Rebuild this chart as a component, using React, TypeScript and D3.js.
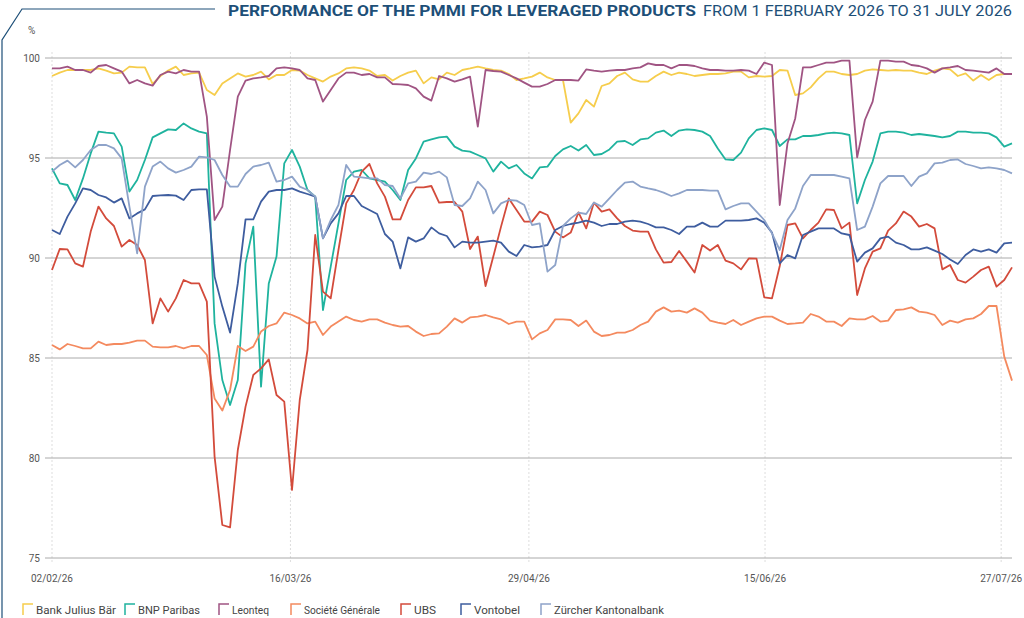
import React, { useEffect, useRef } from 'react';
import * as d3 from 'd3';

// values, one point per trading day
const juliusBaer = [99.1,99.27,99.4,99.4,99.4,99.4,99.48,99.37,99.23,99.27,99.57,99.53,99.53,98.7,99.1,99.37,99.57,99.15,99.23,99.27,98.4,98.15,98.73,98.98,99.23,99.07,99.15,99.32,98.93,99.15,99.15,99.4,
  99.37,99.15,98.98,98.82,99.07,99.23,99.48,99.53,99.48,99.37,99.1,99.15,98.87,99.1,99.27,99.37,98.73,99.03,98.93,99.27,99.15,99.4,99.48,99.57,99.48,99.4,99.37,99.2,98.9,98.98,99.07,99.27,
  99.03,98.9,98.9,96.77,97.23,97.9,97.57,98.6,98.73,99.1,99.27,98.93,98.82,98.82,99.1,99.32,99.15,99.27,99.2,99.1,99.15,99.2,99.2,99.23,99.32,99.32,99.03,99.1,99.07,99.1,99.4,
  99.37,98.15,98.23,98.53,98.98,99.32,99.32,99.2,99.15,99.2,99.37,99.43,99.4,99.37,99.4,99.37,99.37,99.27,99.2,99.37,99.48,99.43,99.1,99.23,98.87,99.15,98.9,99.15,99.2,99.2];
const bnpParibas = [94.48,93.73,93.65,92.9,93.98,95.23,96.32,96.27,96.23,95.57,93.32,93.9,94.9,96.03,96.23,96.43,96.4,96.73,96.48,96.32,96.23,86.73,83.9,82.65,83.9,89.73,91.57,83.57,88.73,90.07,94.73,95.4,
  94.57,93.4,93.07,87.4,89.57,91.73,93.9,94.32,94.4,93.98,93.9,93.82,93.4,92.9,94.4,94.98,95.82,95.93,96.03,96.07,95.57,95.37,95.32,95.15,94.98,94.32,94.82,94.48,94.65,94.23,93.98,94.53,
  94.57,95.1,95.43,95.6,95.37,95.65,95.15,95.2,95.43,95.82,95.85,95.65,95.93,95.98,96.27,96.37,96.1,96.37,96.43,96.4,96.32,96.1,95.48,94.93,94.9,95.27,95.98,96.4,96.48,96.4,95.6,
  95.93,95.93,96.1,96.1,96.15,96.23,96.27,96.23,96.15,92.73,93.9,94.82,96.23,96.32,96.32,96.27,96.15,96.2,96.15,96.1,96.03,96.1,96.32,96.32,96.27,96.27,96.23,96.03,95.57,95.73];
const leonteq = [99.48,99.48,99.57,99.4,99.4,99.27,99.6,99.65,99.48,99.32,98.73,98.9,98.73,98.62,99.15,99.32,99.23,99.4,99.32,99.32,97.07,91.9,92.57,95.4,98.07,98.87,98.98,99.03,99.1,99.48,99.53,99.48,
  99.4,98.98,98.9,97.82,98.4,98.98,99.27,99.27,99.15,99.2,99.03,99.03,98.7,98.68,98.65,98.48,98.07,97.87,99.1,98.98,98.82,98.93,99.07,96.57,99.4,99.35,99.32,99.15,98.98,98.77,98.57,98.57,
  98.7,98.9,98.9,98.9,98.87,99.43,99.37,99.32,99.37,99.4,99.4,99.48,99.53,99.73,99.65,99.65,99.48,99.65,99.65,99.6,99.48,99.4,99.4,99.37,99.37,99.4,99.37,99.2,99.77,99.65,92.65,
  95.73,96.98,99.53,99.53,99.65,99.77,99.77,99.87,99.87,95.03,96.9,97.82,99.87,99.87,99.82,99.82,99.65,99.6,99.48,99.27,99.48,99.53,99.6,99.4,99.37,99.32,99.27,99.48,99.2,99.2];
const socGen = [85.65,85.43,85.7,85.6,85.48,85.48,85.82,85.65,85.7,85.7,85.77,85.87,85.87,85.57,85.53,85.53,85.6,85.48,85.6,85.6,85.15,82.98,82.37,83.4,85.6,85.35,85.57,86.32,86.6,86.73,87.27,87.15,
  86.98,86.73,86.82,86.15,86.57,86.82,87.07,86.9,86.82,86.93,86.93,86.77,86.65,86.57,86.6,86.32,86.1,86.2,86.23,86.57,86.98,86.77,87.03,87.07,87.15,87.03,86.93,86.7,86.82,86.82,85.93,86.23,
  86.4,86.93,86.93,86.9,86.6,86.87,86.32,86.1,86.15,86.27,86.27,86.4,86.65,86.82,87.32,87.53,87.32,87.37,87.27,87.48,87.27,86.87,86.77,86.7,86.9,86.65,86.82,86.98,87.07,87.07,86.87,
  86.7,86.73,86.77,87.2,87.07,86.82,86.82,86.6,86.98,86.93,86.93,87.1,86.82,86.87,87.4,87.43,87.53,87.32,87.27,87.15,86.65,86.87,86.77,86.93,86.98,87.2,87.6,87.6,85.07,83.87];
const ubs = [89.4,90.45,90.43,89.73,89.57,91.32,92.57,91.98,91.6,90.57,90.9,90.65,89.9,86.73,87.98,87.32,87.98,88.9,88.73,88.73,87.82,80.07,76.65,76.53,80.4,82.57,84.15,84.48,84.93,83.15,82.82,78.4,
  82.9,85.4,91.15,88.32,87.98,90.4,92.73,93.4,94.32,94.7,93.73,93.07,91.93,91.93,92.9,93.53,93.53,93.6,92.77,92.8,92.8,92.32,90.45,91.07,88.6,90.07,91.57,92.98,92.4,91.82,91.82,92.32,
  92.15,91.32,91.03,91.27,92.28,91.48,92.77,92.32,92.43,91.98,91.6,91.37,91.32,91.32,90.43,89.77,89.8,90.35,89.82,89.27,90.65,90.37,90.65,89.87,89.73,89.43,89.98,89.97,88.03,87.98,89.6,
  91.65,91.73,90.98,91.4,91.77,92.43,92.4,91.48,91.77,88.15,89.48,90.32,90.48,91.37,91.73,92.32,92.07,91.57,91.7,91.48,89.43,89.65,88.9,88.77,89.07,89.4,89.57,88.57,88.9,89.53];
const vontobel = [91.4,91.2,92.07,92.73,93.48,93.4,93.15,93.03,92.77,92.98,91.98,92.23,92.43,93.1,93.13,93.15,93.12,92.9,93.4,93.43,93.43,89.07,87.57,86.27,88.73,91.93,91.93,92.82,93.32,93.4,93.4,93.48,
  93.32,93.2,93.07,90.98,91.73,92.23,93.1,93.1,92.6,92.4,92.2,91.2,90.82,89.48,91.03,90.82,90.98,91.53,91.23,91.1,90.53,90.82,90.77,90.77,90.82,90.87,90.77,90.32,90.1,90.65,90.53,90.57,
  90.65,91.4,91.6,91.7,91.77,91.87,91.77,91.6,91.7,91.7,91.82,91.87,91.82,91.7,91.53,91.53,91.4,91.2,91.57,91.57,91.77,91.57,91.57,91.87,91.87,91.87,91.9,91.98,91.77,91.27,89.73,
  90.15,89.98,91.15,91.32,91.48,91.48,91.48,91.23,91.15,89.82,90.27,90.48,90.98,91.07,90.77,90.65,90.43,90.43,90.53,90.37,90.2,89.93,89.7,90.15,90.43,90.32,90.43,90.27,90.73,90.77];
const zkb = [94.32,94.65,94.87,94.53,94.9,95.4,95.65,95.65,95.48,94.98,92.57,90.23,93.57,94.57,94.82,94.48,94.27,94.4,94.57,95.07,95.03,94.9,94.15,93.57,93.57,94.2,94.57,94.65,94.77,93.82,93.9,94.07,
  93.57,93.4,93.07,90.98,91.9,92.65,94.65,94.07,94.03,93.98,93.98,93.65,93.6,92.98,93.73,93.82,94.27,94.2,94.32,94.03,92.65,92.6,92.98,93.82,93.4,92.23,92.73,92.9,92.87,92.65,91.65,91.73,
  89.32,89.65,91.6,91.98,92.27,92.2,92.77,92.57,92.98,93.4,93.77,93.82,93.57,93.48,93.4,93.27,93.1,93.23,93.4,93.4,93.4,93.37,93.37,92.43,92.6,92.73,92.73,92.32,91.9,91.23,90.4,
  91.9,92.48,93.6,94.15,94.15,94.15,94.15,94.07,93.98,91.4,91.57,92.57,93.73,94.1,94.1,94.1,93.6,94.07,94.23,94.73,94.77,94.9,94.93,94.7,94.6,94.48,94.53,94.48,94.4,94.23];

const seriesNames = ['Bank Julius Bär', 'BNP Paribas', 'Leonteq', 'Société Générale', 'UBS', 'Vontobel', 'Zürcher Kantonalbank'];
const seriesValues = [juliusBaer, bnpParibas, leonteq, socGen, ubs, vontobel, zkb];
const seriesColors = ['#f6cd4c', '#1fb39e', '#a05483', '#f48a5f', '#d34b3b', '#3e5d9f', '#8ea3c9'];
const legendX = [22, 124, 218, 290, 400, 460, 540];
const legendW = [80, 62, 37, 76, 22, 46, 110];

const yTicks = [75, 80, 85, 90, 95, 100];
const xTickLabels = ['02/02/26', '16/03/26', '29/04/26', '15/06/26', '27/07/26'];
const xTickIndex = [0, 30.8, 61.6, 92.1, 122.6];

const W = 1024, H = 618;
const FONT = '"Roboto", sans-serif';

export default function App() {
  const ref = useRef<SVGSVGElement>(null);

  useEffect(() => {
    if (!ref.current) return;
    const svg = d3.select(ref.current);
    svg.selectAll('*').remove();

    const x = d3.scaleLinear().domain([0, juliusBaer.length - 1]).range([52, 1012]);
    const y = d3.scaleLinear().domain([75, 100]).range([558, 58]);

    // frame decoration
    svg.append('path').attr('d', 'M215,9 L22,9 L2,40 L2,618')
      .attr('fill', 'none').attr('stroke', '#1d4f78').attr('stroke-width', 1.2);

    svg.append('text').attr('x', 228).attr('y', 16).attr('textLength', 468).attr('lengthAdjust', 'spacingAndGlyphs')
      .attr('font-family', FONT).attr('font-size', 14).attr('font-weight', 'bold').attr('fill', '#1d4f78')
      .text('PERFORMANCE OF THE PMMI FOR LEVERAGED PRODUCTS');
    svg.append('text').attr('x', 703).attr('y', 16).attr('textLength', 309).attr('lengthAdjust', 'spacingAndGlyphs')
      .attr('font-family', FONT).attr('font-size', 14).attr('fill', '#1d4f78')
      .text('FROM 1 FEBRUARY 2026 TO 31 JULY 2026');

    svg.append('text').attr('x', 28).attr('y', 34).attr('font-family', FONT).attr('font-size', 10)
      .attr('fill', '#555').text('%');

    // vertical dotted grid
    svg.append('g').selectAll('line').data(xTickIndex).join('line')
      .attr('x1', d => x(d)).attr('x2', d => x(d)).attr('y1', 52).attr('y2', 564)
      .attr('stroke', '#ddd').attr('stroke-dasharray', '2,2');

    // horizontal grid
    svg.append('g').selectAll('line').data(yTicks).join('line')
      .attr('x1', 45).attr('x2', 1012).attr('y1', d => y(d)).attr('y2', d => y(d))
      .attr('stroke', '#aaa').attr('stroke-width', 1);

    svg.append('g').selectAll('text').data(yTicks).join('text')
      .attr('x', 40).attr('y', d => y(d) + 4).attr('text-anchor', 'end')
      .attr('font-family', FONT).attr('font-size', 10).attr('fill', '#555').text(d => d);

    svg.append('g').selectAll('text').data(xTickLabels).join('text')
      .attr('x', (d, i) => x(xTickIndex[i])).attr('y', 582).attr('text-anchor', 'middle')
      .attr('font-family', FONT).attr('font-size', 10).attr('fill', '#555').text(d => d);

    const line = d3.line<number>().x((d, i) => x(i)).y(d => y(d));
    const g = svg.append('g');
    seriesValues.forEach((vals, k) => {
      g.append('path').datum(vals).attr('d', line).attr('fill', 'none')
        .attr('stroke', seriesColors[k]).attr('stroke-width', 1.8).attr('stroke-linejoin', 'round');
    });

    // legend
    const lg = svg.append('g').selectAll('g').data(seriesNames).join('g')
      .attr('transform', (d, i) => `translate(${legendX[i]},603)`);
    lg.append('path').attr('d', 'M1,12 L1,1 L11,1').attr('fill', 'none')
      .attr('stroke', (d, i) => seriesColors[i]).attr('stroke-width', 1.5);
    lg.append('text').attr('x', 14).attr('y', 11).attr('font-family', FONT).attr('font-size', 10)
      .attr('textLength', (d, i) => legendW[i]).attr('lengthAdjust', 'spacingAndGlyphs')
      .attr('fill', '#444').text(d => d);
  }, []);

  return (
    <svg ref={ref} width={W} height={H}
      style={{ position: 'absolute', left: 0, top: 0, background: '#fff' }} />
  );
}
